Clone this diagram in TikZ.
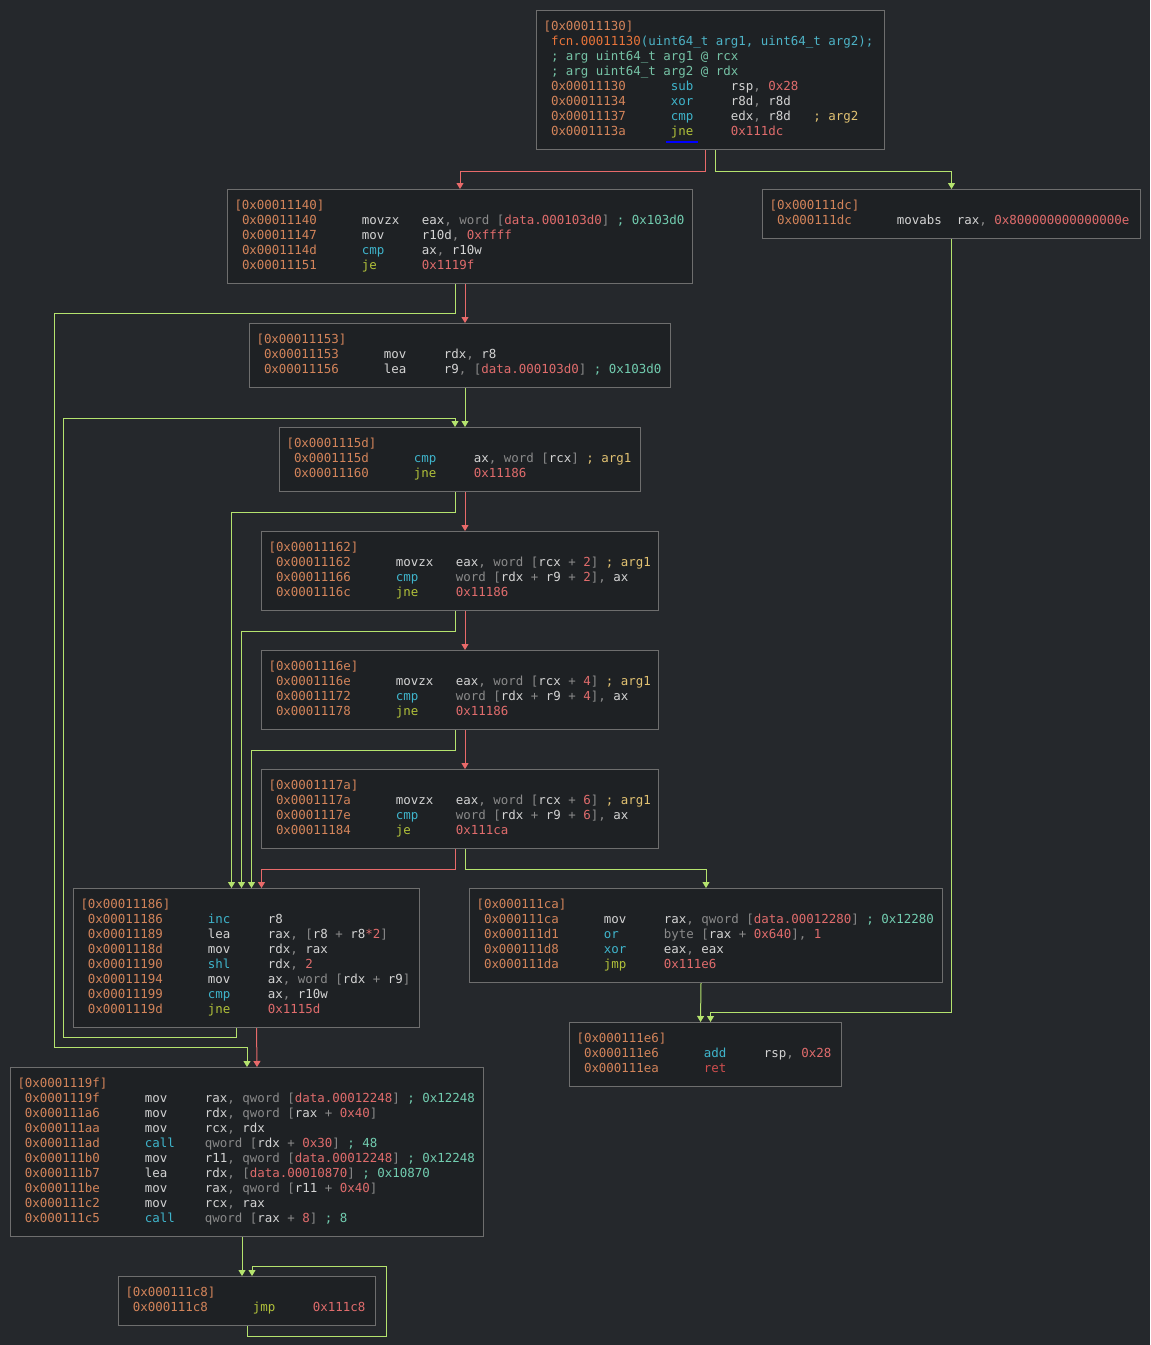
\documentclass[tikz,border=0pt]{standalone}
\usepackage{fontspec}
\setmonofont{DejaVu Sans Mono}
\usepackage{xcolor}
\usetikzlibrary{calc,arrows.meta}
\definecolor{fondo}{HTML}{25282C}
\definecolor{caja}{HTML}{1E2124}
\definecolor{borde}{HTML}{6E6E6E}
\definecolor{dir}{HTML}{D3845A}
\definecolor{fcn}{HTML}{E8743A}
\definecolor{firma}{HTML}{4DB3C6}
\definecolor{coment}{HTML}{76C3A6}
\definecolor{ops}{HTML}{3FB5CC}
\definecolor{salto}{HTML}{B2C23A}
\definecolor{ret}{HTML}{D04E4E}
\definecolor{texto}{HTML}{D4D4D4}
\definecolor{gris}{HTML}{8A8A8A}
\definecolor{numero}{HTML}{E06C6C}
\definecolor{hexc}{HTML}{72CDB0}
\definecolor{argc}{HTML}{E2C272}
\definecolor{verde}{HTML}{B5E36E}
\definecolor{rojo}{HTML}{E86A6A}
\definecolor{cursor}{HTML}{0000FF}
\newlength\chw
\newcommand\asmfont{\ttfamily\fontsize{9.34pt}{11.25pt}\selectfont}
\AtBeginDocument{\settowidth\chw{\asmfont 0}}
\newcommand\hdr[1]{\strut\textcolor{dir}{[#1]}}
\newcommand\lin[1]{\mbox{\spaceskip=\chw\xspaceskip=\chw\strut\hspace*{\chw}#1}}
\newcommand\asm[3]{\lin{\makebox[16\chw][l]{\textcolor{dir}{#1}}\makebox[8\chw][l]{#2}#3}}
\newcommand\mc[1]{\textcolor{ops}{#1}}
\newcommand\mj[1]{\textcolor{salto}{#1}}
\newcommand\nb[1]{\textcolor{numero}{#1}}
\newcommand\gw[1]{\textcolor{gris}{#1}}
\newcommand\cmt[1]{\textcolor{hexc}{#1}}
\newcommand\ag[1]{\textcolor{argc}{#1}}
\tikzset{
    bloque/.style 2 args={draw=borde,fill=caja,line width=0.75pt,anchor=north west,inner xsep=5.25pt,inner ysep=0pt,align=left,text width=#1,minimum height=#2,font=\asmfont,text=texto},
    flecha/.style={draw,->,>={Triangle[width=5.25pt,length=4.5pt]},line width=0.75pt},
    flechav/.style={flecha,color=verde},
    flechar/.style={flecha,color=rojo},
}
\begin{document}
\begin{tikzpicture}[x=0.75pt,y=-0.75pt]
\fill[fondo] (0,0) rectangle (1150,1345);
\useasboundingbox (0,0) rectangle (1150,1345);

\node[bloque={250.5pt}{104.25pt}] (b11130) at (536,10) {\hdr{0x00011130}\\
\lin{\textcolor{fcn}{fcn.00011130}\textcolor{firma}{(uint64\_t arg1, uint64\_t arg2);}}\\
\lin{\textcolor{coment}{; arg uint64\_t arg1 @ rcx}}\\
\lin{\textcolor{coment}{; arg uint64\_t arg2 @ rdx}}\\
\asm{0x00011130}{\mc{sub}}{rsp\gw{,} \nb{0x28}}\\
\asm{0x00011134}{\mc{xor}}{r8d\gw{,} r8d}\\
\asm{0x00011137}{\mc{cmp}}{edx\gw{,} r8d\hspace*{3\chw}\ag{; arg2}}\\
\asm{0x0001113a}{\mj{jne}}{\nb{0x111dc}}};
\draw[cursor,line width=1.5pt] (666,142) -- (698,142);

\node[bloque={338.25pt}{70.5pt}] (b11140) at (227,189) {\hdr{0x00011140}\\
\asm{0x00011140}{movzx}{eax\gw{, word [}\nb{data.000103d0}\gw{]} \cmt{; 0x103d0}}\\
\asm{0x00011147}{mov}{r10d\gw{,} \nb{0xffff}}\\
\asm{0x0001114d}{\mc{cmp}}{ax\gw{,} r10w}\\
\asm{0x00011151}{\mj{je}}{\nb{0x1119f}}};

\node[bloque={273pt}{36.75pt}] (b111dc) at (762,189) {\hdr{0x000111dc}\\
\asm{0x000111dc}{movabs}{rax\gw{,} \nb{0x800000000000000e}}};

\node[bloque={305.25pt}{48pt}] (b11153) at (249,323) {\hdr{0x00011153}\\
\asm{0x00011153}{mov}{rdx\gw{,} r8}\\
\asm{0x00011156}{lea}{r9\gw{, [}\nb{data.000103d0}\gw{]} \cmt{; 0x103d0}}};

\node[bloque={260.25pt}{48pt}] (b1115d) at (279,427) {\hdr{0x0001115d}\\
\asm{0x0001115d}{\mc{cmp}}{ax\gw{, word [}rcx\gw{]} \ag{; arg1}}\\
\asm{0x00011160}{\mj{jne}}{\nb{0x11186}}};

\node[bloque={287.25pt}{59.25pt}] (b11162) at (261,531) {\hdr{0x00011162}\\
\asm{0x00011162}{movzx}{eax\gw{, word [}rcx \gw{+} \nb{2}\gw{]} \ag{; arg1}}\\
\asm{0x00011166}{\mc{cmp}}{\gw{word [}rdx \gw{+} r9 \gw{+} \nb{2}\gw{],} ax}\\
\asm{0x0001116c}{\mj{jne}}{\nb{0x11186}}};

\node[bloque={287.25pt}{59.25pt}] (b1116e) at (261,650) {\hdr{0x0001116e}\\
\asm{0x0001116e}{movzx}{eax\gw{, word [}rcx \gw{+} \nb{4}\gw{]} \ag{; arg1}}\\
\asm{0x00011172}{\mc{cmp}}{\gw{word [}rdx \gw{+} r9 \gw{+} \nb{4}\gw{],} ax}\\
\asm{0x00011178}{\mj{jne}}{\nb{0x11186}}};

\node[bloque={287.25pt}{59.25pt}] (b1117a) at (261,769) {\hdr{0x0001117a}\\
\asm{0x0001117a}{movzx}{eax\gw{, word [}rcx \gw{+} \nb{6}\gw{]} \ag{; arg1}}\\
\asm{0x0001117e}{\mc{cmp}}{\gw{word [}rdx \gw{+} r9 \gw{+} \nb{6}\gw{],} ax}\\
\asm{0x00011184}{\mj{je}}{\nb{0x111ca}}};

\node[bloque={249pt}{104.25pt}] (b11186) at (73,888) {\hdr{0x00011186}\\
\asm{0x00011186}{\mc{inc}}{r8}\\
\asm{0x00011189}{lea}{rax\gw{, [}r8 \gw{+} r8\nb{*2}\gw{]}}\\
\asm{0x0001118d}{mov}{rdx\gw{,} rax}\\
\asm{0x00011190}{\mc{shl}}{rdx\gw{,} \nb{2}}\\
\asm{0x00011194}{mov}{ax\gw{, word [}rdx \gw{+} r9\gw{]}}\\
\asm{0x00011199}{\mc{cmp}}{ax\gw{,} r10w}\\
\asm{0x0001119d}{\mj{jne}}{\nb{0x1115d}}};

\node[bloque={344.25pt}{70.5pt}] (b111ca) at (469,888) {\hdr{0x000111ca}\\
\asm{0x000111ca}{mov}{rax\gw{, qword [}\nb{data.00012280}\gw{]} \cmt{; 0x12280}}\\
\asm{0x000111d1}{\mc{or}}{\gw{byte [}rax \gw{+} \nb{0x640}\gw{],} \nb{1}}\\
\asm{0x000111d8}{\mc{xor}}{eax\gw{,} eax}\\
\asm{0x000111da}{\mj{jmp}}{\nb{0x111e6}}};

\node[bloque={193.5pt}{48pt}] (b111e6) at (569,1022) {\hdr{0x000111e6}\\
\asm{0x000111e6}{\mc{add}}{rsp\gw{,} \nb{0x28}}\\
\asm{0x000111ea}{\textcolor{ret}{ret}}{}};

\node[bloque={344.25pt}{126.75pt}] (b1119f) at (10,1067) {\hdr{0x0001119f}\\
\asm{0x0001119f}{mov}{rax\gw{, qword [}\nb{data.00012248}\gw{]} \cmt{; 0x12248}}\\
\asm{0x000111a6}{mov}{rdx\gw{, qword [}rax \gw{+} \nb{0x40}\gw{]}}\\
\asm{0x000111aa}{mov}{rcx\gw{,} rdx}\\
\asm{0x000111ad}{\mc{call}}{\gw{qword [}rdx \gw{+} \nb{0x30}\gw{]} \cmt{; 48}}\\
\asm{0x000111b0}{mov}{r11\gw{, qword [}\nb{data.00012248}\gw{]} \cmt{; 0x12248}}\\
\asm{0x000111b7}{lea}{rdx\gw{, [}\nb{data.00010870}\gw{]} \cmt{; 0x10870}}\\
\asm{0x000111be}{mov}{rax\gw{, qword [}r11 \gw{+} \nb{0x40}\gw{]}}\\
\asm{0x000111c2}{mov}{rcx\gw{,} rax}\\
\asm{0x000111c5}{\mc{call}}{\gw{qword [}rax \gw{+} \nb{8}\gw{]} \cmt{; 8}}};

\node[bloque={182.25pt}{36.75pt}] (b111c8) at (118,1276) {\hdr{0x000111c8}\\
\asm{0x000111c8}{\mj{jmp}}{\nb{0x111c8}}};

\draw[flechar] ($(b11130.south)+(-5,0)$) -- ++(0,21) -| (b11140.north);
\draw[flechav] ($(b11130.south)+(5,0)$) -- ++(0,21) -| (b111dc.north);
\draw[flechar] ($(b11140.south)+(5,0)$) -- ($(b11153.north)+(5,0)$);
\draw[flechav] ($(b11140.south)+(-5,0)$) |- (54,313) |- ($(b1119f.north)+(0,-20)$) -- (b1119f.north);
\draw[flechav] ($(b11153.south)+(5,0)$) -- ($(b1115d.north)+(5,0)$);
\draw[flechar] ($(b1115d.south)+(5,0)$) -- ($(b11162.north)+(5,0)$);
\draw[flechav] ($(b1115d.south)+(-5,0)$) -- ++(0,20) -| ($(b11186.north)+(-15,0)$);
\draw[flechar] ($(b11162.south)+(5,0)$) -- ($(b1116e.north)+(5,0)$);
\draw[flechav] ($(b11162.south)+(-5,0)$) -- ++(0,20) -| ($(b11186.north)+(-5,0)$);
\draw[flechar] ($(b1116e.south)+(5,0)$) -- ($(b1117a.north)+(5,0)$);
\draw[flechav] ($(b1116e.south)+(-5,0)$) -- ++(0,20) -| ($(b11186.north)+(5,0)$);
\draw[flechar] ($(b1117a.south)+(-5,0)$) -- ++(0,20) -| ($(b11186.north)+(15,0)$);
\draw[flechav] ($(b1117a.south)+(5,0)$) -- ++(0,20) -| (b111ca.north);
\draw[flechav] ($(b11186.south)+(-10,0)$) |- (63,1037) |- ($(b1115d.north)+(-5,-9)$) -- ($(b1115d.north)+(-5,0)$);
\draw[flechar] ($(b11186.south)+(10,0)$) -- ($(b1119f.north)+(10,0)$);
\draw[flechav] ($(b111ca.south)+(-5,0)$) -- ($(b111e6.north)+(-5,0)$);
\draw[flechav] (b111dc.south) |- ($(b111e6.north)+(5,-10)$) -- ($(b111e6.north)+(5,0)$);
\draw[flechav] ($(b1119f.south)+(-5,0)$) -- ($(b111c8.north)+(-5,0)$);
\draw[flechav] (b111c8.south) -- ++(0,10) -| ($(b111c8.north east)+(10,-10)$) -| ($(b111c8.north)+(5,0)$);
\end{tikzpicture}
\end{document}
